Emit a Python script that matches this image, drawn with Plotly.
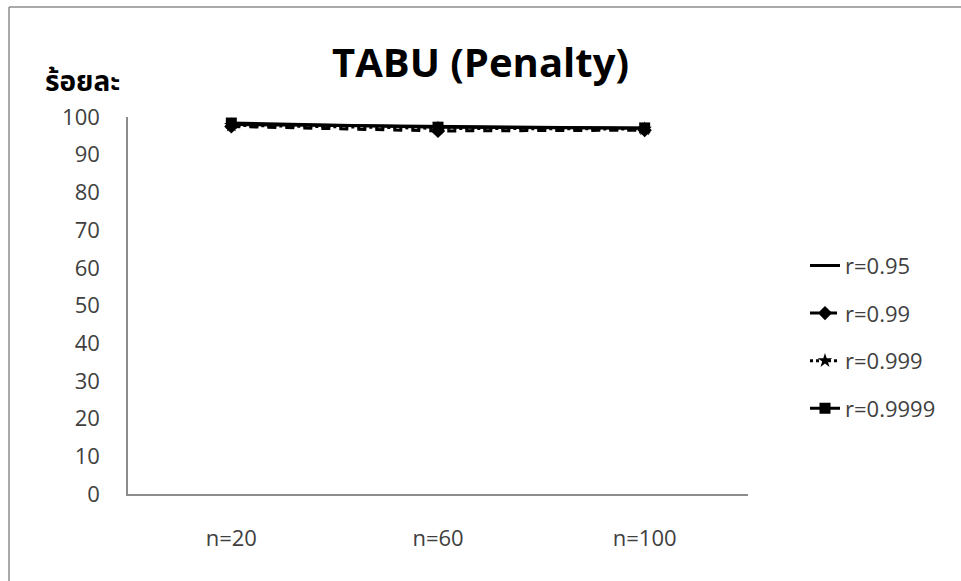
import plotly.graph_objects as go

categories = ["n=20", "n=60", "n=100"]
series_names = ["r=0.95", "r=0.99", "r=0.999", "r=0.9999"]
r095 = [98.0, 97.5, 97.0]
r099 = [97.5, 96.3, 96.5]
r0999 = [97.8, 97.0, 96.8]
r09999 = [98.4, 97.3, 97.1]
y_ticks = list(range(0, 101, 10))

styles = [
    dict(dash="solid", symbol=None),
    dict(dash="dash", symbol="diamond"),
    dict(dash="dot", symbol="star"),
    dict(dash="solid", symbol="square"),
]
values = [r095, r099, r0999, r09999]

fig = go.Figure()
for i, (name, vals, st) in enumerate(zip(series_names, values, styles)):
    mode = "lines" if st["symbol"] is None else "lines+markers"
    fig.add_trace(go.Scatter(
        x=categories, y=vals, name=name, mode=mode,
        line=dict(color="black", width=3, dash=st["dash"]),
        marker=dict(symbol=st["symbol"] or "circle", size=11, color="black"),
        legendgroup=f"g{i}",
    ))

font = "Open Sans, Noto Sans, Noto Sans Thai, sans-serif"
tick_color = "#404040"
fig.update_layout(
    width=961, height=581,
    margin=dict(l=128, r=213, t=117, b=87),
    paper_bgcolor="white", plot_bgcolor="white",
    font=dict(family=font, color=tick_color, size=22),
    title=dict(text="<b>TABU (Penalty)</b>", x=0.5, xanchor="center",
               y=1 - 63 / 581, yanchor="middle",
               font=dict(size=40, color="black", family=font)),
    xaxis=dict(type="category", categoryorder="array", categoryarray=categories,
               range=[-0.5, 2.5], showgrid=False, zeroline=False,
               showline=True, linecolor="#8c8c8c", linewidth=1.5,
               ticks="", ticklabelstandoff=24,
               tickfont=dict(size=22, color=tick_color)),
    yaxis=dict(range=[0, 100], tickvals=y_ticks, showgrid=False, zeroline=False,
               showline=True, linecolor="#8c8c8c", linewidth=1.5,
               ticks="", ticklabelstandoff=22,
               tickfont=dict(size=22, color=tick_color)),
    legend=dict(x=(805 - 128) / 620, xanchor="left", y=0.416, yanchor="middle",
                traceorder="grouped", tracegroupgap=16,
                font=dict(size=22, color=tick_color),
                bgcolor="rgba(0,0,0,0)"),
    showlegend=True,
)

fig.add_annotation(text="<b>ร้อยละ</b>", xref="paper", yref="paper",
                   x=(82 - 128) / 620, y=1 + (117 - 80) / 377,
                   xanchor="center", yanchor="middle", showarrow=False,
                   font=dict(size=28, color="black", family=font))

# chart area border (top and left edges visible)
fig.add_shape(type="line", xref="paper", yref="paper",
              x0=(9 - 128) / 620, x1=(961 - 128) / 620,
              y0=1 + (117 - 7) / 377, y1=1 + (117 - 7) / 377,
              line=dict(color="#8c8c8c", width=1.5))
fig.add_shape(type="line", xref="paper", yref="paper",
              x0=(9 - 128) / 620, x1=(9 - 128) / 620,
              y0=1 + (117 - 7) / 377, y1=-(581 - 494) / 377,
              line=dict(color="#8c8c8c", width=1.5))

fig.write_html("out.html")
